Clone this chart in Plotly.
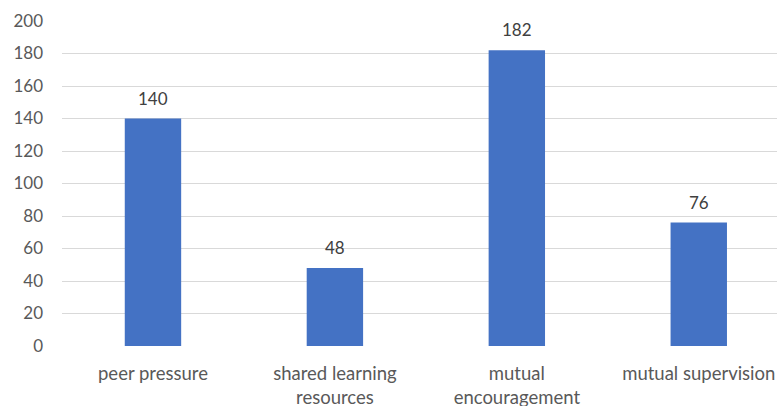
import plotly.graph_objects as go

# Survey responses per category
categories = ["peer pressure", "shared learning<br>resources", "mutual<br>encouragement", "mutual supervision"]
counts = [140, 48, 182, 76]
y_ticks = [0, 20, 40, 60, 80, 100, 120, 140, 160, 180, 200]

BAR_COLOR = "#4472C4"
TEXT_COLOR = "#595959"
LABEL_COLOR = "#404040"
GRID_COLOR = "#D9D9D9"
FONT = "Lato, Carlito, Calibri, sans-serif"

xs = list(range(len(categories)))

fig = go.Figure(
    go.Bar(
        x=xs,
        y=counts,
        marker=dict(color=BAR_COLOR, line=dict(width=0)),
        hoverinfo="x+y",
    )
)

# Value labels sitting above each bar
for x, v in zip(xs, counts):
    fig.add_annotation(
        x=x, y=v, text=str(v), showarrow=False,
        yanchor="bottom", yshift=8,
        font=dict(family=FONT, size=17, color=LABEL_COLOR),
    )

fig.update_layout(
    width=777,
    height=406,
    margin=dict(l=62, r=0, t=21, b=60),
    paper_bgcolor="white",
    plot_bgcolor="white",
    bargap=0.69,
    showlegend=False,
    font=dict(family=FONT, size=16, color=TEXT_COLOR),
    xaxis=dict(
        tickmode="array",
        tickvals=xs,
        ticktext=categories,
        range=[-0.5, 3.43],
        showgrid=False,
        zeroline=False,
        showline=False,
        ticks="",
        ticklabelstandoff=14,
        automargin=False,
        tickfont=dict(family=FONT, size=18.5, color=TEXT_COLOR),
    ),
    yaxis=dict(
        range=[0, 200],
        tickmode="array",
        tickvals=y_ticks,
        showgrid=True,
        gridcolor=GRID_COLOR,
        gridwidth=1,
        zeroline=False,
        showline=False,
        ticks="",
        ticklabelstandoff=18,
        automargin=False,
        tickfont=dict(family=FONT, size=17, color=TEXT_COLOR),
    ),
)

fig.write_html("out.html")
